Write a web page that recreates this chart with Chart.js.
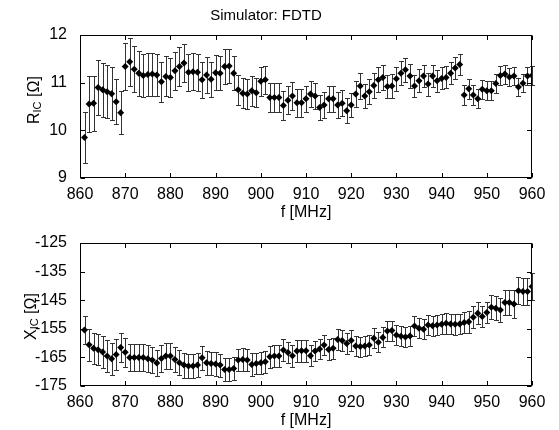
<!DOCTYPE html>
<html><head><meta charset="utf-8">
<script src="https://cdn.jsdelivr.net/npm/chart.js@4.4.1/dist/chart.umd.min.js"></script>
<style>
html,body{margin:0;padding:0;background:#fff;}
#wrap{position:relative;width:559px;height:430px;background:#fff;overflow:hidden;}
.box{position:absolute;left:0;width:559px;height:222px;}
</style></head><body>
<div id="wrap">
<div class="box" style="top:0"><canvas id="c1" width="559" height="222"></canvas></div>
<div class="box" style="top:208px"><canvas id="c2" width="559" height="222"></canvas></div>
</div>
<script>
const freqMHz = [861,862,863,864,865,866,867,868,869,870,871,872,873,874,875,876,877,878,879,880,
881,882,883,884,885,886,887,888,889,890,891,892,893,894,895,896,897,898,899,900,
901,902,903,904,905,906,907,908,909,910,911,912,913,914,915,916,917,918,919,920,
921,922,923,924,925,926,927,928,929,930,931,932,933,934,935,936,937,938,939,940,
941,942,943,944,945,946,947,948,949,950,951,952,953,954,955,956,957,958,959,960];

const rIC = [9.85,10.55,10.57,10.90,10.85,10.81,10.77,10.60,10.37,11.34,
11.44,11.28,11.20,11.15,11.17,11.18,11.16,11.02,11.13,11.11,
11.25,11.34,11.41,11.22,11.23,11.22,11.06,11.16,11.07,11.21,
11.20,11.34,11.35,11.20,10.85,10.78,10.76,10.83,10.79,11.03,
11.06,10.69,10.69,10.69,10.52,10.63,10.72,10.58,10.58,10.66,
10.76,10.72,10.48,10.53,10.66,10.66,10.53,10.57,10.41,10.53,
10.76,10.93,10.72,10.81,10.94,11.06,11.11,10.92,10.93,11.08,
11.20,11.27,11.14,10.93,11.04,11.14,10.97,11.14,11.04,11.09,
11.11,11.20,11.31,11.38,10.74,10.87,10.74,10.66,10.86,10.83,
10.83,10.98,11.15,11.18,11.12,11.14,10.91,10.99,11.14,11.15];

const rErr = [0.54,0.58,0.58,0.58,0.56,0.56,0.55,0.47,0.45,0.50,
0.50,0.48,0.47,0.46,0.45,0.45,0.44,0.42,0.42,0.41,
0.40,0.40,0.40,0.39,0.39,0.39,0.38,0.37,0.37,0.37,
0.36,0.36,0.36,0.35,0.32,0.32,0.32,0.32,0.31,0.30,
0.30,0.31,0.30,0.30,0.30,0.29,0.30,0.29,0.29,0.28,
0.28,0.28,0.27,0.28,0.27,0.27,0.27,0.27,0.26,0.26,
0.27,0.27,0.26,0.26,0.26,0.26,0.26,0.25,0.25,0.25,
0.25,0.25,0.25,0.24,0.24,0.24,0.24,0.24,0.23,0.23,
0.23,0.23,0.23,0.22,0.21,0.21,0.21,0.20,0.20,0.20,
0.20,0.20,0.20,0.20,0.19,0.19,0.19,0.19,0.19,0.19];

const xIC = [-155.4,-160.6,-161.8,-162.3,-163.1,-164.5,-165.5,-164.0,-161.5,-163.2,
-165.0,-165.0,-165.0,-165.0,-165.5,-165.9,-167.0,-165.4,-164.5,-164.5,
-165.7,-166.9,-167.7,-168.0,-168.0,-167.7,-165.1,-166.9,-167.1,-167.3,
-167.7,-169.2,-169.2,-168.9,-165.9,-165.7,-165.9,-167.5,-167.1,-166.9,
-166.5,-164.8,-164.5,-164.5,-162.4,-163.3,-164.4,-162.8,-162.7,-162.7,
-164.4,-162.8,-162.1,-160.7,-162.2,-161.8,-158.7,-159.1,-160.1,-159.1,
-161.0,-161.2,-161.0,-160.7,-158.3,-159.7,-158.0,-155.8,-155.6,-157.2,
-157.6,-157.9,-157.5,-154.0,-154.8,-155.2,-153.7,-153.9,-153.7,-153.4,
-153.1,-153.3,-153.4,-153.3,-152.8,-152.5,-151.0,-149.6,-150.7,-149.3,
-147.5,-147.8,-148.4,-145.8,-145.8,-146.3,-141.7,-142.0,-142.0,-140.2];

const xErr = [4.9,5.5,5.5,5.5,5.5,5.5,5.5,5.3,5.0,5.0,
4.8,4.8,4.8,4.8,4.7,4.7,4.6,4.6,4.5,4.5,
4.4,4.4,4.4,4.3,4.3,4.3,4.2,4.2,4.1,4.1,
4.0,4.0,4.0,4.0,3.9,3.9,3.9,3.9,3.8,3.8,
3.8,3.8,3.8,3.8,3.8,3.8,3.8,3.8,3.8,3.8,
3.6,3.6,3.6,3.6,3.6,3.6,3.6,3.6,3.6,3.6,
3.5,3.5,3.5,3.5,3.5,3.5,3.5,3.5,3.5,3.5,
3.5,3.5,3.5,3.5,3.5,3.5,3.5,3.5,3.5,3.5,
3.6,3.6,3.6,3.6,3.6,3.8,3.8,3.8,3.8,3.8,
4.2,4.2,4.2,4.2,4.2,4.8,4.8,4.8,4.8,4.8];

const freqTicks = [860,870,880,890,900,910,920,930,940,950,960];
const rTicks = [9,10,11,12];
const xicTicks = [-175,-165,-155,-145,-135,-125];

const FONT = '"Liberation Sans", Arial, Helvetica, sans-serif';
Chart.defaults.font.family = FONT;
Chart.defaults.font.size = 16;
Chart.defaults.color = '#000';

const errorBars = {
  id: 'errorBars',
  beforeDatasetsDraw(chart) {
    const {ctx, scales: {x, y}} = chart;
    const ds = chart.data.datasets[0];
    const errs = ds.errors;
    const cap = 2.5;
    ctx.save();
    ctx.strokeStyle = '#333';
    ctx.lineWidth = 1;
    ds.data.forEach((p, i) => {
      const px = Math.round(x.getPixelForValue(p.x)) + 0.5;
      const yt = Math.round(y.getPixelForValue(p.y + errs[i])) + 0.5;
      const yb = Math.round(y.getPixelForValue(p.y - errs[i])) + 0.5;
      ctx.beginPath();
      ctx.moveTo(px, yt); ctx.lineTo(px, yb);
      ctx.moveTo(px - cap, yt); ctx.lineTo(px + cap, yt);
      ctx.moveTo(px - cap, yb); ctx.lineTo(px + cap, yb);
      ctx.stroke();
    });
    ctx.restore();
  }
};

const frame = {
  id: 'frame',
  afterDraw(chart) {
    const {ctx, chartArea: a, scales: {x, y}} = chart;
    ctx.save();
    ctx.strokeStyle = '#000';
    ctx.lineWidth = 1;
    const L = Math.round(a.left) + 0.5, R = Math.round(a.right) - 0.5;
    const T = Math.round(a.top) + 0.5, B = Math.round(a.bottom) - 0.5;
    ctx.strokeRect(L, T, R - L, B - T);
    const tl = 4.5;
    ctx.beginPath();
    x.ticks.forEach(t => {
      const px = Math.round(x.getPixelForValue(t.value)) + 0.5;
      ctx.moveTo(px, B); ctx.lineTo(px, B - tl);
      ctx.moveTo(px, T); ctx.lineTo(px, T + tl);
    });
    y.ticks.forEach(t => {
      const py = Math.round(y.getPixelForValue(t.value)) + 0.5;
      ctx.moveTo(L, py); ctx.lineTo(L + tl, py);
      ctx.moveTo(R, py); ctx.lineTo(R - tl, py);
    });
    ctx.stroke();
    // y-axis title with subscript
    const lab = chart.options.plugins.yLabel;
    ctx.fillStyle = '#000';
    ctx.translate(lab.xBase, lab.yStart);
    ctx.rotate(-Math.PI / 2);
    ctx.textBaseline = 'alphabetic';
    ctx.textAlign = 'left';
    ctx.font = '16px ' + FONT;
    ctx.fillText(lab.main, 0, 0);
    let w = ctx.measureText(lab.main).width;
    ctx.font = '11px ' + FONT;
    ctx.fillText(lab.sub, w, 2);
    w += ctx.measureText(lab.sub).width;
    ctx.font = '16px ' + FONT;
    ctx.fillText(lab.rest, w, 0);
    ctx.restore();
  }
};

function makeChart(id, vals, errs, yTicks, yMin, yMax, label, withTitle) {
  const cfg = {
    type: 'scatter',
    data: {
      datasets: [{
        data: freqMHz.map((f, i) => ({x: f, y: vals[i]})),
        errors: errs,
        pointStyle: 'rectRot',
        pointRadius: 3.5,
        pointHoverRadius: 3.5,
        backgroundColor: '#000',
        borderColor: '#000',
        borderWidth: 0,
        showLine: false
      }]
    },
    options: {
      responsive: false,
      animation: false,
      devicePixelRatio: 1,
      events: [],
      layout: {padding: {left: 0, right: 27, top: withTitle ? 0 : 35, bottom: 0}},
      plugins: {
        legend: {display: false},
        tooltip: {enabled: false},
        title: withTitle ? {
          display: true,
          text: 'Simulator: FDTD',
          font: {size: 15, weight: 'normal', family: FONT, lineHeight: 1.2},
          color: '#000',
          padding: {top: 7, bottom: 10}
        } : {display: false},
        yLabel: label
      },
      scales: {
        x: {
          type: 'linear',
          min: 860, max: 960,
          afterBuildTicks: s => { s.ticks = freqTicks.map(v => ({value: v})); },
          ticks: {padding: -1, maxRotation: 0, autoSkip: false, font: {size: 16}},
          grid: {display: false},
          border: {display: false},
          title: {display: true, text: 'f [MHz]', font: {size: 16}, padding: {top: 0, bottom: 0}},
          afterFit: s => { s.height = 44; }
        },
        y: {
          type: 'linear',
          min: yMin, max: yMax,
          afterBuildTicks: s => { s.ticks = yTicks.map(v => ({value: v})); },
          ticks: {padding: 5, font: {size: 16}},
          grid: {display: false},
          border: {display: false},
          afterFit: s => { s.width = 80; }
        }
      }
    },
    plugins: [errorBars, frame]
  };
  return new Chart(document.getElementById(id), cfg);
}

makeChart('c1', rIC, rErr, rTicks, 9, 12, {main: 'R', sub: 'IC', rest: ' [Ω]', yStart: 124, xBase: 39}, true);
makeChart('c2', xIC, xErr, xicTicks, -175, -125, {main: 'X', sub: 'IC', rest: ' [Ω]', yStart: 132, xBase: 36}, false);
</script>
</body></html>
